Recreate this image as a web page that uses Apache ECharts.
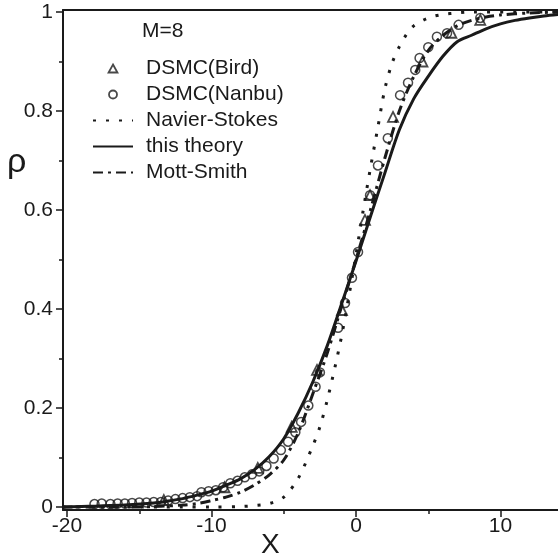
<!DOCTYPE html>
<html>
<head>
<meta charset="utf-8">
<script src="https://cdn.jsdelivr.net/npm/echarts@6/dist/echarts.min.js"></script>
<style>html,body{margin:0;padding:0;background:#fff}#c{width:558px;height:555px}</style>
</head>
<body>
<div id="c"></div>
<script>
// ---- data ----
const theoryX = [-20.3,-18,-16,-14,-13,-12,-11,-10,-9,-8,-7,-6,-5,-4,-3,-2,-1,0,1,2,3,4,5,6,7,8,9,10,11,12,13,14];
const theoryY = [0.0,0.002,0.004,0.008,0.012,0.017,0.024,0.032,0.044,0.057,0.076,0.102,0.138,0.19,0.252,0.325,0.41,0.497,0.587,0.675,0.762,0.825,0.87,0.91,0.94,0.953,0.966,0.976,0.983,0.988,0.992,0.995];

const nsX = [-20.3,-12,-10,-8,-7,-6,-5,-4,-3,-2.5,-2,-1.5,-1,-0.5,0,0.5,1,1.5,2,2.5,3,3.5,4,5,6,7,8,14];
const nsY = [0.0,0.0,0.0,0.001,0.003,0.007,0.02,0.058,0.123,0.162,0.215,0.277,0.345,0.425,0.51,0.6,0.685,0.765,0.845,0.897,0.93,0.955,0.972,0.988,0.995,0.998,1.0,1.0];

const msX = [-20.3,-16,-14,-12,-11,-10,-9,-8,-7,-6,-5,-4,-3,-2,-1,0,1,2,3,4,5,6,7,8,9,10,12,14];
const msY = [0.0,0.0,0.001,0.004,0.007,0.013,0.02,0.03,0.045,0.065,0.095,0.15,0.228,0.31,0.405,0.5,0.6,0.705,0.8,0.87,0.922,0.952,0.972,0.983,0.99,0.994,0.998,1.0];

const birdX = [-13.3,-9.1,-6.8,-4.45,-2.7,-0.97,0.62,0.97,2.56,4.6,6.6,8.6];
const birdY = [0.014,0.04,0.079,0.162,0.277,0.398,0.58,0.63,0.788,0.9,0.958,0.984];

const nanbuX = [-18.1,-17.6,-17.0,-16.5,-16.0,-15.5,-15.0,-14.5,-14.0,-13.5,-13.0,-12.5,-12.0,-11.5,-11.0,-10.7,-10.2,-9.7,-9.2,-8.7,-8.2,-7.7,-7.2,-6.7,-6.2,-5.7,-5.2,-4.7,-4.2,-3.8,-3.3,-2.8,-2.5,-1.24,-0.76,-0.28,0.14,0.97,1.52,2.2,3.05,3.6,4.1,4.4,5.0,5.6,6.3,7.1,8.6];
const nanbuY = [0.006,0.007,0.006,0.007,0.007,0.008,0.009,0.009,0.01,0.01,0.013,0.016,0.018,0.02,0.022,0.03,0.032,0.034,0.04,0.048,0.053,0.06,0.066,0.072,0.083,0.098,0.115,0.132,0.151,0.172,0.205,0.243,0.272,0.362,0.412,0.463,0.515,0.63,0.69,0.745,0.832,0.857,0.883,0.907,0.929,0.95,0.957,0.974,0.988];

const xMajorTicks = [-20,-10,0,10];
const xMinorTicks = [-15,-5,5];
const yMajorTicks = [0,0.2,0.4,0.6,0.8,1];
const yMinorTicks = [0.1,0.3,0.5,0.7,0.9];

const seriesNames = ['DSMC(Bird)','DSMC(Nanbu)','Navier-Stokes','this theory','Mott-Smith'];
const annotation = 'M=8';

const zip = (a, b) => a.map((v, i) => [v, b[i]]);
const ink = '#1a1a1a';
const fontFam = 'Liberation Sans, Arial, sans-serif';
const clear = 'rgba(255,255,255,0)';

const chart = echarts.init(document.getElementById('c'), null, {renderer: 'canvas'});
const X0 = -20.28, X1 = 13.98, Y0 = -0.006, Y1 = 1.004;

chart.setOption({
  animation: false,
  backgroundColor: '#fff',
  grid: {left: 63, top: 10, right: 0, bottom: 45, containLabel: false},
  xAxis: [
    {type: 'value', min: X0, max: X1, position: 'bottom',
     axisLine: {show: true, onZero: false, lineStyle: {color: ink, width: 2}},
     axisTick: {show: true, inside: false, length: 7, customValues: xMajorTicks, lineStyle: {color: ink, width: 1.5}},
     axisLabel: {show: true, customValues: xMajorTicks, margin: 6, color: ink, fontSize: 21, fontFamily: fontFam},
     splitLine: {show: false}},
    {type: 'value', min: X0, max: X1, position: 'bottom',
     axisLine: {show: false, onZero: false},
     axisTick: {show: true, inside: false, length: 4, customValues: xMinorTicks, lineStyle: {color: ink, width: 1.5}},
     axisLabel: {show: false}, splitLine: {show: false}},
    {type: 'value', min: X0, max: X1, position: 'top',
     axisLine: {show: true, onZero: false, lineStyle: {color: ink, width: 2}},
     axisTick: {show: false}, axisLabel: {show: false}, splitLine: {show: false}}
  ],
  yAxis: [
    {type: 'value', min: Y0, max: Y1, position: 'left',
     axisLine: {show: true, onZero: false, lineStyle: {color: ink, width: 2}},
     axisTick: {show: true, inside: false, length: 7, customValues: yMajorTicks, lineStyle: {color: ink, width: 1.5}},
     axisLabel: {show: true, customValues: yMajorTicks, margin: 10, color: ink, fontSize: 21, fontFamily: fontFam,
       formatter: v => (Math.abs(v) < 1e-9 ? '0' : (Math.abs(v - 1) < 1e-9 ? '1' : v.toFixed(1)))},
     splitLine: {show: false}},
    {type: 'value', min: Y0, max: Y1, position: 'left',
     axisLine: {show: false, onZero: false},
     axisTick: {show: true, inside: false, length: 4, customValues: yMinorTicks, lineStyle: {color: ink, width: 1.5}},
     axisLabel: {show: false}, splitLine: {show: false}}
  ],
  legend: {
    orient: 'vertical', left: 87, top: 53, itemWidth: 40, itemHeight: 8, itemGap: 5,
    symbolKeepAspect: true,
    data: [
      {name: seriesNames[0], icon: 'path://M5,0L10,9L0,9Z', itemStyle: {color: clear, borderColor: ink, borderWidth: 1.8}},
      {name: seriesNames[1], icon: 'circle', itemStyle: {color: clear, borderColor: ink, borderWidth: 1.8}},
      {name: seriesNames[2]},
      {name: seriesNames[3]},
      {name: seriesNames[4]}
    ],
    textStyle: {color: ink, fontSize: 21, fontFamily: fontFam, padding: [0, 0, 0, 8]},
    selectedMode: false
  },
  graphic: [
    {type: 'text', left: 142, top: 21, style: {text: annotation, fill: ink, font: '21px ' + fontFam}},
    {type: 'text', left: 7, top: 146, style: {text: 'ρ', fill: ink, font: '34px ' + fontFam}},
    {type: 'text', left: 261, top: 531, style: {text: 'X', fill: ink, font: '28px ' + fontFam}}
  ],
  series: [
    {name: seriesNames[0], type: 'scatter', data: zip(birdX, birdY), symbol: 'triangle', symbolSize: 10,
     itemStyle: {color: clear, borderColor: ink, borderWidth: 1.8}, z: 4},
    {name: seriesNames[1], type: 'scatter', data: zip(nanbuX, nanbuY), symbol: 'circle', symbolSize: 9,
     itemStyle: {color: clear, borderColor: ink, borderWidth: 1.5}, z: 4},
    {name: seriesNames[2], type: 'line', data: zip(nsX, nsY), symbol: 'none', smooth: 0.3,
     lineStyle: {color: ink, width: 3, type: [3, 10], cap: 'butt'}, itemStyle: {color: ink, opacity: 0}, z: 3},
    {name: seriesNames[3], type: 'line', data: zip(theoryX, theoryY), symbol: 'none', smooth: 0.3,
     lineStyle: {color: ink, width: 3, type: 'solid'}, itemStyle: {color: ink, opacity: 0}, z: 3},
    {name: seriesNames[4], type: 'line', data: zip(msX, msY), symbol: 'none', smooth: 0.3,
     lineStyle: {color: ink, width: 3, type: [10, 5, 3, 5], cap: 'butt'}, itemStyle: {color: ink, opacity: 0}, z: 3}
  ]
});
</script>
</body>
</html>
